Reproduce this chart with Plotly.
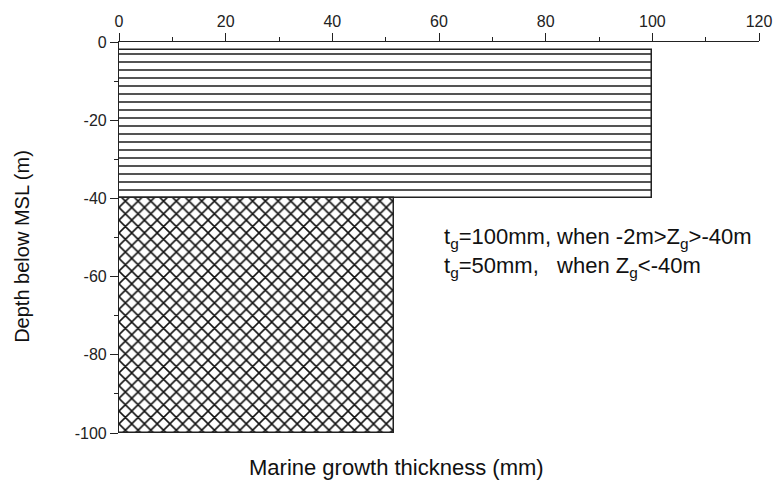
import plotly.graph_objects as go

# Data
layer_names = ["Upper zone", "Lower zone"]
depth_top = [-2, -40]          # m
depth_bottom = [-40, -100]     # m
thickness = [100, 51.6]        # mm (as drawn)
patterns = ["-", "x"]
pattern_sizes = [8, 9]
pattern_solidity = [0.18, 0.32]
x_ticks = [0, 20, 40, 60, 80, 100, 120]
y_ticks = [0, -20, -40, -60, -80, -100]
y_tick_labels = ["0", "-20", "-40", "-60", "-80", "-100"]

font_family = "Liberation Sans, Arial, sans-serif"

fig = go.Figure()
for name, top, bot, t, pat, ps, sol in zip(layer_names, depth_top, depth_bottom, thickness,
                                           patterns, pattern_sizes, pattern_solidity):
    fig.add_trace(go.Bar(
        name=name,
        orientation="h",
        y=[(top + bot) / 2],
        width=[top - bot],
        x=[t],
        base=[0],
        marker=dict(
            color="white",
            line=dict(color="#222", width=1.5),
            pattern=dict(shape=pat, size=ps, solidity=sol,
                         fgcolor="#111", bgcolor="white", fillmode="replace"),
        ),
        showlegend=False,
        hoverinfo="skip",
    ))

fig.update_layout(
    width=776, height=484,
    margin=dict(l=119, r=17, t=42, b=51),
    paper_bgcolor="white", plot_bgcolor="white",
    font=dict(family=font_family, size=16, color="#222"),
    bargap=0,
    xaxis=dict(
        range=[0, 120], side="top", tickvals=x_ticks, automargin=False,
        showline=True, linecolor="#222", linewidth=1.2,
        ticks="outside", ticklen=8, tickwidth=1.2, tickcolor="#222",
        minor=dict(dtick=10, ticks="outside", ticklen=4, tickcolor="#222", tickwidth=1),
        showgrid=False, zeroline=False,
        tickfont=dict(size=16),
    ),
    yaxis=dict(
        range=[-100, 0], tickvals=y_ticks, ticktext=y_tick_labels, automargin=False,
        showline=True, linecolor="#222", linewidth=1.2,
        ticks="outside", ticklen=8, tickwidth=1.2, tickcolor="#222",
        minor=dict(dtick=10, ticks="outside", ticklen=4, tickcolor="#222", tickwidth=1),
        showgrid=False, zeroline=False,
        tickfont=dict(size=16),
    ),
)

fig.add_annotation(text="Marine growth thickness (mm)", xref="paper", yref="paper",
                   x=0.434, y=-0.087, xanchor="center", yanchor="middle",
                   showarrow=False, font=dict(size=22, color="#111"))
fig.add_annotation(text="Depth below MSL (m)", xref="paper", yref="paper",
                   x=-0.152, y=0.478, xanchor="center", yanchor="middle", textangle=-90,
                   showarrow=False, font=dict(size=20, color="#111"))
fig.add_annotation(text="t<sub>g</sub>=100mm, when -2m>Z<sub>g</sub>>-40m", x=60.6, y=-50,
                   xanchor="left", yanchor="middle", showarrow=False,
                   font=dict(size=22, color="#111"))
fig.add_annotation(text="t<sub>g</sub>=50mm,   when Z<sub>g</sub><-40m", x=60.6, y=-57.6,
                   xanchor="left", yanchor="middle", showarrow=False,
                   font=dict(size=22, color="#111"))

fig.write_html("out.html", config={"displayModeBar": False},
               post_script="document.body.style.margin='0';document.body.style.padding='0';")
